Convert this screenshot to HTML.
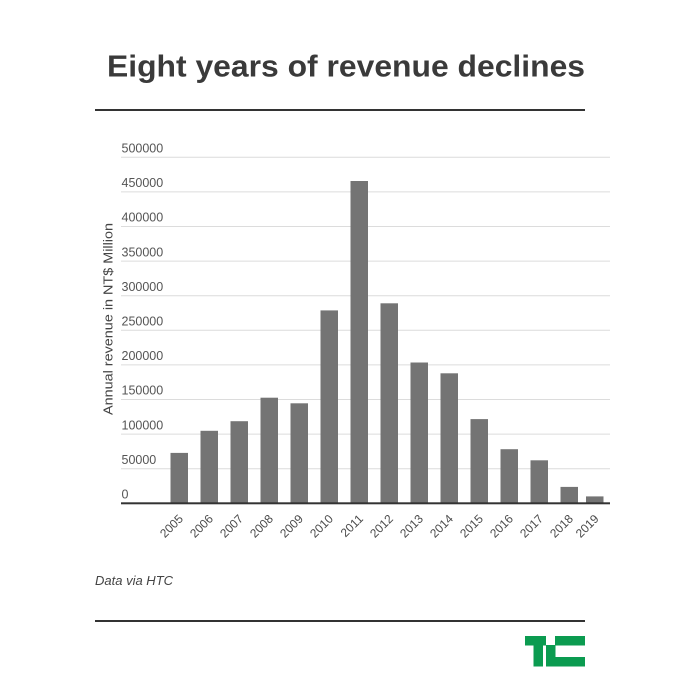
<!DOCTYPE html>
<html>
<head>
<meta charset="utf-8">
<style>
  html,body{margin:0;padding:0;background:#fff;}
  svg{display:block;}
</style>
</head>
<body>
<svg width="700" height="700" viewBox="0 0 700 700" xmlns="http://www.w3.org/2000/svg">
  <rect width="700" height="700" fill="#fff"/>
  <!-- Title -->
  <text x="346" y="76.7" text-anchor="middle" font-family="Liberation Sans, Arial, sans-serif" font-weight="bold" font-size="31" fill="#3a3a3a" textLength="478" lengthAdjust="spacingAndGlyphs">Eight years of revenue declines</text>
  <rect x="95" y="109" width="490" height="2" fill="#333"/>

  <!-- Gridlines -->
  <g stroke="#dcdcdc" stroke-width="1">
    <line x1="121" x2="610" y1="468.7" y2="468.7"/>
    <line x1="121" x2="610" y1="434.1" y2="434.1"/>
    <line x1="121" x2="610" y1="399.5" y2="399.5"/>
    <line x1="121" x2="610" y1="364.9" y2="364.9"/>
    <line x1="121" x2="610" y1="330.3" y2="330.3"/>
    <line x1="121" x2="610" y1="295.7" y2="295.7"/>
    <line x1="121" x2="610" y1="261.1" y2="261.1"/>
    <line x1="121" x2="610" y1="226.5" y2="226.5"/>
    <line x1="121" x2="610" y1="191.9" y2="191.9"/>
    <line x1="121" x2="610" y1="157.3" y2="157.3"/>
  </g>

  <!-- Y tick labels -->
  <g font-family="Liberation Sans, Arial, sans-serif" font-size="12.5" fill="#555">
    <text x="121.5" y="498.5">0</text>
    <text x="121.5" y="463.9">50000</text>
    <text x="121.5" y="429.3">100000</text>
    <text x="121.5" y="394.7">150000</text>
    <text x="121.5" y="360.1">200000</text>
    <text x="121.5" y="325.5">250000</text>
    <text x="121.5" y="290.9">300000</text>
    <text x="121.5" y="256.3">350000</text>
    <text x="121.5" y="221.7">400000</text>
    <text x="121.5" y="187.1">450000</text>
    <text x="121.5" y="152.5">500000</text>
  </g>

  <!-- Axis title -->
  <text transform="translate(112.5,319) rotate(-90)" text-anchor="middle" font-family="Liberation Sans, Arial, sans-serif" font-size="13" fill="#444" textLength="192" lengthAdjust="spacingAndGlyphs">Annual revenue in NT$ Million</text>

  <!-- Bars -->
  <g fill="#747474">
    <rect x="170.5" y="452.9" width="17.5" height="50.4"/>
    <rect x="200.5" y="430.8" width="17.5" height="72.5"/>
    <rect x="230.5" y="421.2" width="17.5" height="82.1"/>
    <rect x="260.5" y="397.7" width="17.5" height="105.6"/>
    <rect x="290.5" y="403.3" width="17.5" height="100"/>
    <rect x="320.5" y="310.4" width="17.5" height="192.9"/>
    <rect x="350.5" y="181.0" width="17.5" height="322.3"/>
    <rect x="380.5" y="303.3" width="17.5" height="200"/>
    <rect x="410.5" y="362.5" width="17.5" height="140.8"/>
    <rect x="440.5" y="373.3" width="17.5" height="130"/>
    <rect x="470.5" y="419.1" width="17.5" height="84.2"/>
    <rect x="500.5" y="449.2" width="17.5" height="54.1"/>
    <rect x="530.5" y="460.3" width="17.5" height="43"/>
    <rect x="560.5" y="486.9" width="17.5" height="16.4"/>
    <rect x="586" y="496.4" width="17.5" height="6.9"/>
  </g>

  <!-- X axis line -->
  <rect x="121" y="502.3" width="489" height="2" fill="#333"/>

  <!-- X labels -->
  <g font-family="Liberation Sans, Arial, sans-serif" font-size="12" fill="#4a4a4a" text-anchor="end">
    <text transform="translate(183.8,519.5) rotate(-45)">2005</text>
    <text transform="translate(213.8,519.5) rotate(-45)">2006</text>
    <text transform="translate(243.8,519.5) rotate(-45)">2007</text>
    <text transform="translate(273.8,519.5) rotate(-45)">2008</text>
    <text transform="translate(303.8,519.5) rotate(-45)">2009</text>
    <text transform="translate(333.8,519.5) rotate(-45)">2010</text>
    <text transform="translate(363.8,519.5) rotate(-45)">2011</text>
    <text transform="translate(393.8,519.5) rotate(-45)">2012</text>
    <text transform="translate(423.8,519.5) rotate(-45)">2013</text>
    <text transform="translate(453.8,519.5) rotate(-45)">2014</text>
    <text transform="translate(483.8,519.5) rotate(-45)">2015</text>
    <text transform="translate(513.8,519.5) rotate(-45)">2016</text>
    <text transform="translate(543.8,519.5) rotate(-45)">2017</text>
    <text transform="translate(573.8,519.5) rotate(-45)">2018</text>
    <text transform="translate(599.5,519.5) rotate(-45)">2019</text>
  </g>

  <!-- Source -->
  <text x="95" y="585" font-family="Liberation Sans, Arial, sans-serif" font-style="italic" font-size="13" fill="#444">Data via HTC</text>
  <rect x="95" y="620" width="490" height="2" fill="#333"/>

  <!-- TC logo -->
  <g fill="#0b9b50">
    <rect x="525" y="636" width="21" height="9.5"/>
    <rect x="533.5" y="636" width="9.5" height="30.5"/>
    <rect x="546" y="645" width="9.5" height="21.5"/>
    <rect x="555" y="636" width="30" height="9.5"/>
    <rect x="546" y="657" width="39" height="9.5"/>
  </g>
</svg>
</body>
</html>
